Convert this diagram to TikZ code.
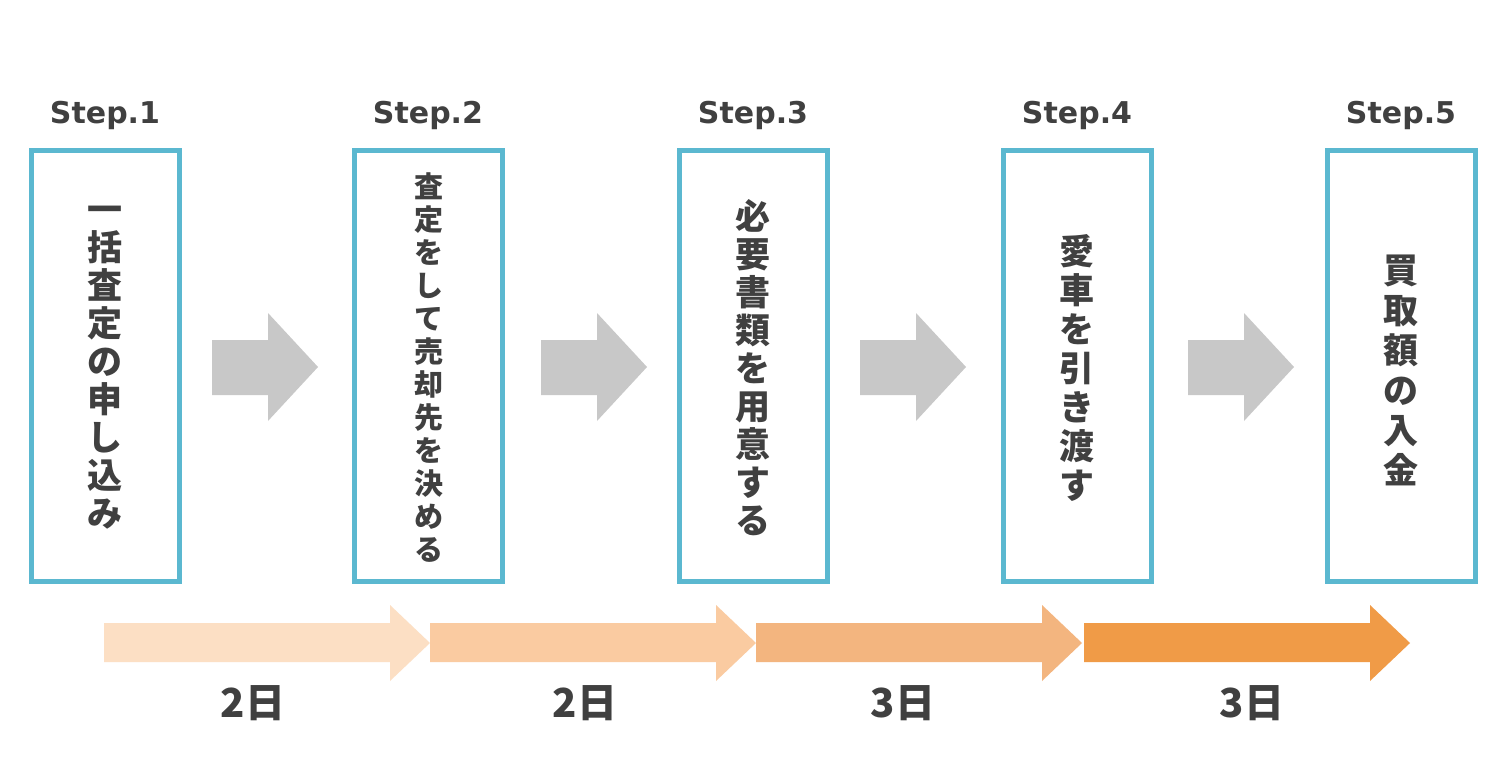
\documentclass[tikz,border=0pt]{standalone}
\usepackage{fontspec}
\newfontfamily\jp{Noto Sans CJK JP}
\newfontfamily\stepf{DejaVu Sans}
\definecolor{boxc}{HTML}{5BB8D0}
\definecolor{txt}{HTML}{404040}
\definecolor{grayar}{HTML}{C8C8C8}
\definecolor{o1}{HTML}{FCDFC4}
\definecolor{o2}{HTML}{FACBA1}
\definecolor{o3}{HTML}{F3B57F}
\definecolor{o4}{HTML}{F09B47}
\tikzset{
 box/.style={draw=boxc,line width=5pt},
 steplbl/.style={font=\stepf\bfseries\fontsize{30}{34}\selectfont,text=txt},
 vt/.style n args={2}{font=\jp\bfseries\fontsize{#1}{#2}\selectfont,text=txt,align=center,inner sep=0pt},
 day/.style={font=\jp\bfseries\fontsize{40}{44}\selectfont,text=txt}}
\begin{document}
\begin{tikzpicture}[x=1pt,y=-1pt]
\useasboundingbox (0,0) rectangle (1501,778);
\fill[white] (0,0) rectangle (1501,778);
\foreach \x/\n in {31/1,354/2,679/3,1003/4,1327/5}{
  \draw[box] (\x,151) rectangle (\x+148,581);
  \node[steplbl] (s\n) at (\x+74,115) {Step.\n};
}
\node[vt={35}{38}] (t1) at (105,368) {一\\括\\査\\定\\の\\申\\し\\込\\み};
\node[vt={29}{33}] (t2) at (429,368) {査\\定\\を\\し\\て\\売\\却\\先\\を\\決\\め\\る};
\node[vt={35}{38}] (t3) at (753,368) {必\\要\\書\\類\\を\\用\\意\\す\\る};
\node[vt={35}{39}] (t4) at (1077,368) {愛\\車\\を\\引\\き\\渡\\す};
\node[vt={35}{40}] (t5) at (1401,370) {買\\取\\額\\の\\入\\金};
\foreach \x in {212,541,860,1188}{
  \fill[grayar] (\x,340) -- (\x+56,340) -- (\x+56,313) -- (\x+106,367) -- (\x+56,421) -- (\x+56,395) -- (\x,395) -- cycle;
}
\foreach \x/\c in {1084/o4,756/o3,430/o2,104/o1}{
  \fill[\c] (\x,623) -- (\x+286,623) -- (\x+286,605) -- (\x+326,643) -- (\x+286,681) -- (\x+286,662) -- (\x,662) -- cycle;
}
\node[day] (d1) at (253,703) {2日};
\node[day] (d2) at (585,703) {2日};
\node[day] (d3) at (903,703) {3日};
\node[day] (d4) at (1252,703) {3日};
\end{tikzpicture}
\end{document}
